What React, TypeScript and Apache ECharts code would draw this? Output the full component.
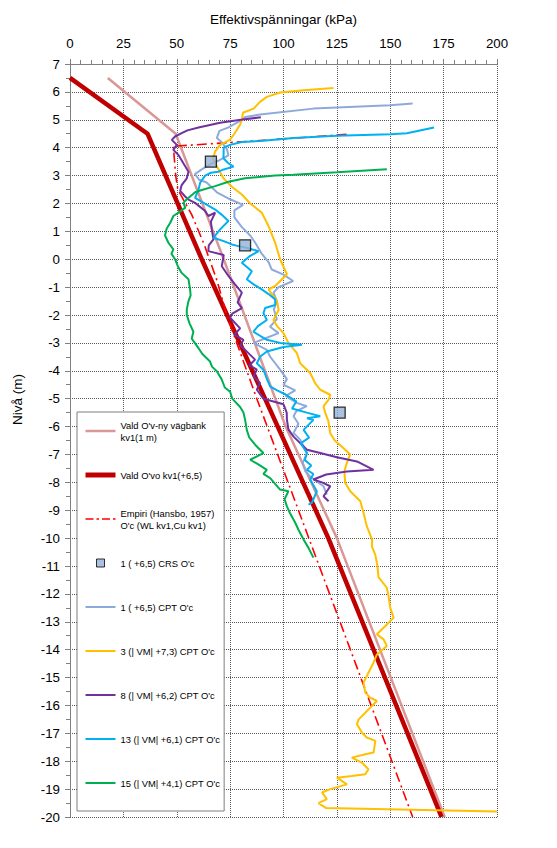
import React, { useEffect, useRef } from "react";
import * as echarts from "echarts";

const FONT = "'Liberation Sans', Arial, sans-serif";
const LEGEND_FONT = "'Liberation Sans Narrow', 'Arial Narrow', 'Liberation Sans', Arial, sans-serif";

// Names (legend order)
const NAMES = [
  "Vald O'v-ny vägbank\nkv1(1 m)",
  "Vald O'vo kv1(+6,5)",
  "Empiri (Hansbo, 1957)\nO'c (WL kv1,Cu kv1)",
  "1 ( +6,5) CRS O'c",
  "1 ( +6,5) CPT O'c",
  "3 (| VM| +7,3) CPT O'c",
  "8 (| VM| +6,2) CPT O'c",
  "13 (| VM| +6,1) CPT O'c",
  "15 (| VM| +4,1) CPT O'c",
];

// [kPa, level]
const valdNyVagbank = [[17.7, 6.5], [49.5, 4.5], [72, 0], [101, -6], [125, -10], [175.5, -20]];
const valdOvo = [[0, 6.5], [36.3, 4.5], [61.7, 0], [121, -10], [174, -20]];
const empiri = [[129.5, 4.48], [92, 4.27], [48.4, 4.05], [49.5, 3.0], [50.5, 2.5], [57, 1.6], [63, 0.5], [69, -0.8], [73.4, -2], [87.5, -5], [107, -9], [160.5, -20]];
const crs = [[66, 3.5], [82, 0.5], [126.3, -5.5]];

const cpt1 = [[160.5, 5.58], [150, 5.52], [114, 5.4], [89, 5.19], [82, 5.1], [79.5, 4.95], [74, 4.72], [70, 4.6], [68.8, 4.35], [71, 4.2], [73.5, 3.95], [74.2, 3.72], [70, 3.55], [66, 3.42], [61.7, 3.22], [58.5, 3.05], [60.5, 2.85], [64, 2.75], [68.8, 2.4], [75, 2.15], [81, 1.95], [77, 1.75], [77, 1.5], [80.5, 1.15], [84.4, 0.85], [86.7, 0.6], [89.8, 0.2], [93, -0.1], [94.5, -0.37], [100, -0.55], [104.5, -0.78], [97.7, -1.0], [95.3, -1.2], [96.9, -1.5], [95.5, -1.8], [96.9, -2.15], [93.7, -2.42], [97.7, -2.65], [91, -2.85], [86, -3.0], [92.2, -3.25], [93.7, -3.49], [96.1, -3.73], [98.4, -3.96], [101.6, -4.3], [100, -4.5], [105.5, -4.7], [101, -4.9], [106.2, -5.15], [110.9, -5.27], [106, -5.45], [104.7, -5.63], [107, -5.9], [104.7, -6.23], [107.8, -6.47], [111, -6.95], [109, -7.3], [110.2, -7.6], [112.5, -7.8], [118.7, -8.14], [120.3, -8.44]];

const cpt3 = [[123.4, 6.14], [109.4, 6.06], [98.4, 5.98], [92.2, 5.82], [89, 5.64], [86, 5.4], [81, 5.25], [80.5, 5.0], [79.7, 4.83], [77, 4.5], [75, 4.29], [70.3, 4.1], [68, 3.87], [67, 3.6], [68.75, 3.33], [71.9, 2.9], [75.8, 2.6], [80.5, 2.32], [84.4, 2.0], [89.8, 1.67], [93, 1.19], [96.1, 0.59], [98.4, 0.0], [101.6, -0.54], [96.1, -0.96], [93, -1.08], [95, -1.3], [97, -1.5], [97.7, -1.82], [95.3, -2.18], [97, -2.4], [100, -2.65], [102.3, -3.0], [106.3, -3.37], [107.8, -3.73], [112.5, -4.08], [114.8, -4.44], [117.2, -4.68], [121.9, -4.86], [121.1, -5.04], [118.75, -5.27], [119.5, -5.5], [121, -5.8], [121.9, -6.24], [124, -6.5], [127.1, -6.71], [131.25, -7.0], [129.7, -7.3], [128.5, -7.6], [128.9, -8.02], [131.25, -8.32], [136, -8.68], [137.5, -9.1], [139, -9.57], [141.5, -10.05], [141.4, -10.3], [143, -10.6], [144, -11.0], [144.5, -11.4], [148.4, -11.78], [149.2, -12.08], [150, -12.5], [151.6, -12.85], [147.7, -13.15], [143.75, -13.45], [146.9, -13.63], [148.4, -13.87], [143.75, -14.17], [142.2, -14.46], [140.6, -14.7], [137.5, -15.18], [138.3, -15.54], [140.6, -15.72], [143.75, -15.84], [140.6, -16.08], [138.3, -16.26], [135.2, -16.5], [134.4, -16.67], [136.7, -16.97], [139, -17.15], [143, -17.27], [142.2, -17.69], [138.3, -17.75], [132, -17.87], [136.7, -18.05], [139.8, -18.29], [138.3, -18.47], [132, -18.53], [125, -18.59], [129.7, -18.83], [121.9, -19.0], [118, -19.12], [120.3, -19.36], [116.4, -19.5], [120, -19.68], [200, -19.8]];

const cpt8 = [[89.4, 5.09], [80, 5.0], [70.3, 4.89], [60.2, 4.72], [55, 4.62], [52.3, 4.52], [49.2, 4.4], [47.7, 4.28], [50, 4.1], [48.4, 3.92], [50.8, 3.74], [53.1, 3.44], [55.5, 3.14], [54.7, 2.9], [52.3, 2.66], [51.6, 2.45], [53.9, 2.25], [55.5, 2.14], [58.6, 2.02], [63.3, 1.73], [64.8, 1.55], [68, 1.67], [66, 1.35], [66.4, 1.07], [67.2, 0.71], [65, 0.5], [64.8, 0.29], [72, 0.15], [71.1, -0.25], [74.2, -0.6], [77.3, -0.9], [80.5, -1.2], [78.5, -1.55], [80.5, -1.75], [76, -1.95], [75, -2.1], [79.7, -2.48], [77, -2.7], [81.25, -2.89], [79.7, -3.1], [82, -3.25], [86.7, -3.6], [84, -3.8], [87.5, -3.96], [86, -4.2], [89, -4.44], [87.5, -4.68], [90.6, -5.0], [100, -5.2], [101.5, -5.5], [101.6, -5.75], [102.3, -6.1], [104.7, -6.36], [111, -6.83], [117.2, -6.95], [125, -7.1], [134.4, -7.25], [142.2, -7.55], [129.7, -7.61], [120, -7.72], [114, -7.9], [118, -8.0], [121.9, -8.14], [118.75, -8.5], [121.1, -8.68]];

const cpt13 = [[170.5, 4.72], [157.8, 4.52], [150, 4.48], [125, 4.43], [104.7, 4.35], [89, 4.24], [80.5, 4.2], [75, 4.1], [72, 4.0], [71.9, 3.62], [74, 3.45], [76.6, 3.32], [72, 3.22], [69.5, 3.14], [66, 3.1], [63.3, 3.0], [61, 2.75], [60.2, 2.5], [58.6, 2.2], [63, 2.0], [68, 1.78], [71, 1.6], [74.2, 1.37], [70.3, 1.07], [67.2, 0.77], [72, 0.65], [75.8, 0.53], [78.9, 0.47], [83, 0.4], [88.3, 0.29], [84, 0.1], [80.5, -0.13], [85.2, -0.43], [82.8, -0.72], [86, -0.9], [89.8, -1.08], [93, -1.25], [96.1, -1.44], [96.1, -1.64], [91.4, -1.75], [90.6, -1.94], [92.2, -2.18], [88, -2.4], [85.9, -2.6], [92.2, -2.89], [98.4, -3.0], [108.6, -3.07], [100, -3.15], [92.2, -3.31], [89, -3.5], [87.5, -3.73], [90.6, -3.96], [92, -4.25], [93.75, -4.56], [97, -4.7], [101, -4.85], [106, -5.1], [104, -5.35], [110.9, -5.5], [117.2, -5.63], [111, -5.7], [114, -5.76], [109.4, -6.12], [112, -6.4], [108, -6.6], [111, -6.95], [110, -7.2], [113, -7.4], [111, -7.55], [114, -7.7], [112.5, -7.9], [115.6, -8.32], [113.3, -8.74], [111.7, -8.8]];

const cpt15 = [[148.4, 3.23], [125, 3.12], [104.7, 3.03], [96.1, 3.0], [82, 2.9], [74.2, 2.78], [68, 2.62], [61.7, 2.48], [58.6, 2.4], [56.25, 2.25], [54.7, 2.15], [53.1, 2.02], [54, 1.85], [50.8, 1.67], [48.4, 1.55], [46.9, 1.3], [45.3, 1.1], [44.5, 0.85], [46.1, 0.59], [48.4, 0.35], [47.5, 0.2], [49.2, 0.0], [50.5, -0.25], [52.3, -0.49], [55.5, -0.72], [56.25, -1.08], [56.5, -1.3], [55.5, -1.5], [54.7, -1.8], [54.7, -2.0], [56, -2.3], [57.8, -2.6], [57, -2.85], [60.2, -3.19], [62, -3.4], [65.6, -3.67], [66.5, -3.85], [68.75, -4.02], [71, -4.3], [72.5, -4.6], [75, -4.75], [76, -5.0], [79.7, -5.3], [81.25, -5.5], [82, -5.75], [82.8, -6.12], [84, -6.4], [86.7, -6.65], [90.6, -6.95], [84.4, -7.19], [88, -7.35], [92.2, -7.55], [90.6, -7.7], [93.75, -7.85], [98.4, -8.26], [102.3, -8.32], [100.5, -8.6], [101.6, -8.86], [103, -9.1], [105.5, -9.45], [107, -9.7], [109.4, -10.05], [111.7, -10.35], [114, -10.7]];

const COLORS = ["#D99795", "#C00000", "#FF0000", "#95B3D7", "#8EAADB", "#FFC000", "#7030A0", "#00B0F0", "#00B050"];

const lineIcon = (h: number) => {
  const y0 = 6 - h / 2;
  return `path://M0,0 M30,12 M0,${y0} L30,${y0} L30,${y0 + h} L0,${y0 + h} Z`;
};
const dashDotIcon = "path://M0,0 M30,12 M0,5.3 L8,5.3 L8,6.7 L0,6.7 Z M11,5.3 L13.5,5.3 L13.5,6.7 L11,6.7 Z M16.5,5.3 L24.5,5.3 L24.5,6.7 L16.5,6.7 Z M27.5,5.3 L30,5.3 L30,6.7 L27.5,6.7 Z";
const squareIcon = "path://M0,0 M30,12 M11,2 L19,2 L19,10 L11,10 Z";

export default function App() {
  const ref = useRef<HTMLDivElement>(null);
  useEffect(() => {
    if (!ref.current) return;
    const chart = echarts.init(ref.current, null, { renderer: "svg" });
    const lineSeries = (i: number, data: number[][], width: number, extra: any = {}) => ({
      type: "line",
      name: NAMES[i],
      data,
      color: COLORS[i],
      symbol: "none",
      showSymbol: false,
      lineStyle: { color: COLORS[i], width, ...(extra.lineStyle || {}) },
      itemStyle: { color: COLORS[i] },
      emphasis: { disabled: true },
      z: extra.z ?? 2,
    });
    const twoLine = { padding: [12, 0, 0, 0] };
    const option: any = {
      animation: false,
      backgroundColor: "#ffffff",
      grid: { left: 70, right: 60, top: 64, bottom: 31, containLabel: false, outerBoundsMode: "none" },
      xAxis: {
        type: "value",
        position: "top",
        min: 0,
        max: 200,
        interval: 25,
        name: "Effektivspänningar (kPa)",
        nameLocation: "middle",
        nameGap: 38,
        nameTextStyle: { fontFamily: FONT, fontSize: 13.5, color: "#000" },
        axisLine: { show: true, onZero: false, lineStyle: { color: "#808080", width: 1 } },
        axisTick: { show: true, length: 5, lineStyle: { color: "#808080" } },
        minorTick: { show: true, splitNumber: 5, length: 4, lineStyle: { color: "#808080" } },
        axisLabel: { fontFamily: FONT, fontSize: 13.3, color: "#000", margin: 14 },
        splitLine: { show: true, lineStyle: { color: "#5a5a5a", type: [1, 1], width: 1 } },
        minorSplitLine: { show: false },
      },
      yAxis: {
        type: "value",
        min: -20,
        max: 7,
        interval: 1,
        name: "Nivå (m)",
        nameLocation: "middle",
        nameRotate: 90,
        nameGap: 46,
        nameTextStyle: { fontFamily: FONT, fontSize: 13.5, color: "#000", padding: [0, 0, 0, 82] },
        axisLine: { show: true, onZero: false, lineStyle: { color: "#808080", width: 1 } },
        axisTick: { show: true, length: 5, lineStyle: { color: "#808080" } },
        minorTick: { show: true, splitNumber: 2, length: 4, lineStyle: { color: "#808080" } },
        axisLabel: { fontFamily: FONT, fontSize: 13.3, color: "#000", margin: 10 },
        splitLine: { show: true, lineStyle: { color: "#5a5a5a", type: [1, 1], width: 1 } },
        minorSplitLine: { show: false },
      },
      legend: {
        orient: "vertical",
        left: 77,
        top: 412,
        padding: [1, 4, 10, 8],
        itemGap: 8,
        itemWidth: 30,
        itemHeight: 12,
        selectedMode: false,
        backgroundColor: "#ffffff",
        borderColor: "#7f7f7f",
        borderWidth: 1,
        itemStyle: { borderWidth: 0 },
        textStyle: { fontFamily: LEGEND_FONT, fontSize: 9.4, color: "#000", lineHeight: 12, padding: [12, 0, 12, 0] },
        data: [
          { name: NAMES[0], icon: lineIcon(2.5), textStyle: twoLine },
          { name: NAMES[1], icon: lineIcon(5) },
          { name: NAMES[2], icon: dashDotIcon, textStyle: twoLine },
          { name: NAMES[3], icon: squareIcon, itemStyle: { borderColor: "#000", borderWidth: 1 } },
          { name: NAMES[4], icon: lineIcon(2) },
          { name: NAMES[5], icon: lineIcon(2) },
          { name: NAMES[6], icon: lineIcon(2) },
          { name: NAMES[7], icon: lineIcon(2) },
          { name: NAMES[8], icon: lineIcon(2) },
        ],
      },
      series: [
        lineSeries(0, valdNyVagbank, 2.5),
        lineSeries(1, valdOvo, 4.5),
        lineSeries(2, empiri, 1.6, { lineStyle: { type: [10, 4, 2, 4] } }),
        {
          type: "scatter",
          name: NAMES[3],
          data: crs,
          symbol: "rect",
          symbolSize: 11,
          color: COLORS[3],
          itemStyle: { color: COLORS[3], borderColor: "#000", borderWidth: 1.3 },
          emphasis: { disabled: true },
          z: 10,
        },
        lineSeries(4, cpt1, 2),
        lineSeries(5, cpt3, 2),
        lineSeries(6, cpt8, 2),
        lineSeries(7, cpt13, 2),
        lineSeries(8, cpt15, 2),
      ],
    };
    chart.setOption(option);
    return () => chart.dispose();
  }, []);
  return <div ref={ref} style={{ position: "absolute", left: 0, top: 0, width: 557, height: 848 }} />;
}
